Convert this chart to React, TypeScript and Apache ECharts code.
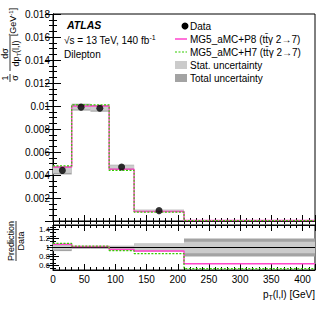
import React, { useEffect, useRef } from "react";
import * as echarts from "echarts";

const binEdges = [0, 30, 60, 90, 130, 210, 420];
const dataValues = [0.0044, 0.0099, 0.0098, 0.0047, 0.0009, 0.00008];
const p8Values = [0.0047, 0.01, 0.01, 0.0045, 0.00083, 0.00005];
const h7Values = [0.0048, 0.0101, 0.0101, 0.0044, 0.00078, 0.00004];
const p8Ratio = [1.07, 1.02, 1.02, 0.955, 0.92, 0.64];
const h7Ratio = [1.09, 1.03, 1.03, 0.93, 0.865, 0.53];
const statUnc = [0.05, 0.02, 0.02, 0.03, 0.08, 0.13];
const totalUnc = [0.08, 0.03, 0.03, 0.04, 0.09, 0.2];
const ratioTickLabels = [0.6, 0.8, 1, 1.2, 1.4];
const shownDataBins = 5;

const FONT = "'Liberation Sans', Arial, Helvetica, sans-serif";
const P8_COLOR = "#ff44cc";
const H7_COLOR = "#33cc00";
const STAT_COLOR = "#cbcbcb";
const TOTAL_COLOR = "#a3a3a3";

function stepPoints(vals: number[]) {
  const pts: number[][] = [];
  vals.forEach((v, i) => {
    pts.push([binEdges[i], v]);
    pts.push([binEdges[i + 1], v]);
  });
  return pts;
}

function bandRects(center: number[], rel: number[], ratio: boolean) {
  return center.map((c, i) => {
    const base = ratio ? 1 : c;
    return [binEdges[i], binEdges[i + 1], base * (1 - rel[i]), base * (1 + rel[i])];
  });
}

const bandRender = (params: any, api: any) => {
  const p1 = api.coord([api.value(0), api.value(3)]);
  const p2 = api.coord([api.value(1), api.value(2)]);
  return {
    type: "rect",
    shape: { x: p1[0], y: p1[1], width: p2[0] - p1[0], height: p2[1] - p1[1] },
    style: { fill: api.visual("color") },
  };
};

export default function App() {
  const ref = useRef<HTMLDivElement>(null);
  useEffect(() => {
    if (!ref.current) return;
    const chart = echarts.init(ref.current, undefined, { renderer: "svg" });
    const axisLine = { show: true, lineStyle: { color: "#000", width: 1 } };
    const xCommon = (grid: number, top: boolean, labels: boolean) => ({
      type: "value",
      gridIndex: grid,
      position: top ? "top" : "bottom",
      min: 0,
      max: 420,
      interval: 50,
      axisLine,
      axisTick: { show: true, inside: true, length: 6, lineStyle: { color: "#000" } },
      minorTick: { show: true, splitNumber: 5, length: 3, lineStyle: { color: "#000" } },
      splitLine: { show: false },
      axisLabel: labels
        ? {
            show: true,
            fontFamily: FONT,
            fontSize: 10,
            color: "#000",
            margin: 4,
            formatter: (v: number) => (v > 410 ? "" : String(v)),
          }
        : { show: false },
    });
    const yMain = (right: boolean) => ({
      type: "value",
      gridIndex: 0,
      position: right ? "right" : "left",
      min: 0,
      max: 0.018,
      interval: 0.002,
      axisLine,
      axisTick: { show: true, inside: true, length: 8, lineStyle: { color: "#000" } },
      minorTick: { show: true, splitNumber: 4, length: 4, lineStyle: { color: "#000" } },
      splitLine: { show: false },
      axisLabel: right
        ? { show: false }
        : {
            show: true,
            fontFamily: FONT,
            fontSize: 10,
            color: "#000",
            margin: 3,
            formatter: (v: number) => (v === 0 ? "" : String(+v.toFixed(3))),
          },
    });
    const yRatio = (right: boolean) => ({
      type: "value",
      gridIndex: 1,
      position: right ? "right" : "left",
      min: 0.5,
      max: 1.5,
      interval: 0.1,
      axisLine,
      axisTick: { show: true, inside: true, length: 6, customValues: ratioTickLabels, lineStyle: { color: "#000" } },
      minorTick: { show: true, splitNumber: 2, length: 3, lineStyle: { color: "#000" } },
      splitLine: { show: false },
      axisLabel: right
        ? { show: false }
        : {
            show: true,
            fontFamily: FONT,
            fontSize: 8,
            color: "#000",
            margin: 3,
            customValues: ratioTickLabels,
            formatter: (v: number) => String(+v.toFixed(1)),
          },
    });

    const dataCenters = dataValues.map((_, i) => (binEdges[i] + binEdges[i + 1]) / 2);

    const option: any = {
      animation: false,
      backgroundColor: "#fff",
      grid: [
        { left: 53, top: 14, width: 262, height: 207, show: true, borderColor: "#000", borderWidth: 1, backgroundColor: "transparent" },
        { left: 53, top: 225, width: 262, height: 45, show: true, borderColor: "#000", borderWidth: 1, backgroundColor: "transparent" },
      ],
      xAxis: [xCommon(0, false, false), xCommon(0, true, false), xCommon(1, false, true), xCommon(1, true, false)],
      yAxis: [yMain(false), yMain(true), yRatio(false), yRatio(true)],
      series: [
        {
          type: "custom",
          xAxisIndex: 0,
          yAxisIndex: 0,
          renderItem: bandRender,
          itemStyle: { color: TOTAL_COLOR },
          encode: { x: [0, 1], y: [2, 3] },
          data: bandRects(dataValues, totalUnc, false),
          z: 1,
        },
        {
          type: "custom",
          xAxisIndex: 0,
          yAxisIndex: 0,
          renderItem: bandRender,
          itemStyle: { color: STAT_COLOR },
          encode: { x: [0, 1], y: [2, 3] },
          data: bandRects(dataValues, statUnc, false),
          z: 2,
        },
        {
          type: "line",
          xAxisIndex: 0,
          yAxisIndex: 0,
          data: stepPoints(p8Values),
          showSymbol: false,
          lineStyle: { color: P8_COLOR, width: 1.5 },
          z: 3,
        },
        {
          type: "line",
          xAxisIndex: 0,
          yAxisIndex: 0,
          data: stepPoints(h7Values),
          showSymbol: false,
          lineStyle: { color: H7_COLOR, width: 1.2, type: [2, 1.5] },
          z: 4,
        },
        {
          type: "scatter",
          xAxisIndex: 0,
          yAxisIndex: 0,
          data: dataValues.slice(0, shownDataBins).map((v, i) => [dataCenters[i], v]),
          symbol: "circle",
          symbolSize: 7,
          itemStyle: { color: "#000" },
          z: 5,
        },
        {
          type: "custom",
          xAxisIndex: 2,
          yAxisIndex: 2,
          renderItem: bandRender,
          itemStyle: { color: TOTAL_COLOR },
          encode: { x: [0, 1], y: [2, 3] },
          data: bandRects(dataValues, totalUnc, true),
          z: 1,
        },
        {
          type: "custom",
          xAxisIndex: 2,
          yAxisIndex: 2,
          renderItem: bandRender,
          itemStyle: { color: STAT_COLOR },
          encode: { x: [0, 1], y: [2, 3] },
          data: bandRects(dataValues, statUnc, true),
          z: 2,
        },
        {
          type: "line",
          xAxisIndex: 2,
          yAxisIndex: 2,
          data: [
            [0, 1],
            [420, 1],
          ],
          showSymbol: false,
          lineStyle: { color: "#000", width: 1.2 },
          z: 3,
        },
        {
          type: "line",
          xAxisIndex: 2,
          yAxisIndex: 2,
          data: stepPoints(p8Ratio),
          showSymbol: false,
          lineStyle: { color: P8_COLOR, width: 1.5 },
          z: 4,
        },
        {
          type: "line",
          xAxisIndex: 2,
          yAxisIndex: 2,
          data: stepPoints(h7Ratio),
          showSymbol: false,
          lineStyle: { color: H7_COLOR, width: 1.2, type: [2, 1.5] },
          z: 5,
        },
      ],
      graphic: [
        { type: "text", x: 67, y: 25, style: { text: "ATLAS", fontFamily: FONT, fontSize: 10.5, fontWeight: "bold", fontStyle: "italic", fill: "#000", verticalAlign: "middle" } },
        {
          type: "text",
          x: 64,
          y: 40,
          style: {
            text: "√s = 13 TeV, 140 fb{sup|-1}",
            fontFamily: FONT,
            fontSize: 10,
            fill: "#000",
            verticalAlign: "middle",
            rich: { sup: { fontFamily: FONT, fontSize: 7, padding: [0, 0, 6, 0], fill: "#000" } },
          },
        },
        { type: "text", x: 64, y: 54, style: { text: "Dilepton", fontFamily: FONT, fontSize: 10, fill: "#000", verticalAlign: "middle" } },
        { type: "circle", shape: { cx: 185, cy: 26, r: 3.5 }, style: { fill: "#000" } },
        { type: "text", x: 190, y: 26, style: { text: "Data", fontFamily: FONT, fontSize: 10, fill: "#000", verticalAlign: "middle" } },
        { type: "line", shape: { x1: 175, y1: 39, x2: 187, y2: 39 }, style: { stroke: P8_COLOR, lineWidth: 1.5 } },
        { type: "text", x: 190, y: 39, style: { text: "MG5_aMC+P8 (tt̄γ 2→7)", fontFamily: FONT, fontSize: 10, fill: "#000", verticalAlign: "middle" } },
        { type: "line", shape: { x1: 175, y1: 52, x2: 187, y2: 52 }, style: { stroke: H7_COLOR, lineWidth: 1.2, lineDash: [2, 1.5] } },
        { type: "text", x: 190, y: 52, style: { text: "MG5_aMC+H7 (tt̄γ 2→7)", fontFamily: FONT, fontSize: 10, fill: "#000", verticalAlign: "middle" } },
        { type: "rect", shape: { x: 175, y: 61, width: 12, height: 8 }, style: { fill: STAT_COLOR } },
        { type: "text", x: 190, y: 65, style: { text: "Stat. uncertainty", fontFamily: FONT, fontSize: 10, fill: "#000", verticalAlign: "middle" } },
        { type: "rect", shape: { x: 175, y: 74, width: 12, height: 8 }, style: { fill: TOTAL_COLOR } },
        { type: "text", x: 190, y: 78, style: { text: "Total uncertainty", fontFamily: FONT, fontSize: 10, fill: "#000", verticalAlign: "middle" } },
        {
          type: "text",
          x: 315,
          y: 294,
          style: {
            text: "p{sub|T}(l,l) [GeV]",
            fontFamily: FONT,
            fontSize: 10,
            fill: "#000",
            align: "right",
            verticalAlign: "middle",
            rich: { sub: { fontFamily: FONT, fontSize: 7, padding: [6, 0, 0, 0], fill: "#000" } },
          },
        },
        {
          type: "group",
          x: 10,
          y: 82,
          rotation: Math.PI / 2,
          children: [
            { type: "text", x: 4, y: -0.5, style: { text: "1", fontFamily: FONT, fontSize: 9, fill: "#000", align: "center", verticalAlign: "bottom" } },
            { type: "line", shape: { x1: 0, y1: 0, x2: 8, y2: 0 }, style: { stroke: "#000", lineWidth: 0.8 } },
            { type: "text", x: 4, y: 0.5, style: { text: "σ", fontFamily: FONT, fontSize: 9, fill: "#000", align: "center", verticalAlign: "top" } },
            { type: "text", x: 28.5, y: -0.5, style: { text: "dσ", fontFamily: FONT, fontSize: 9, fill: "#000", align: "center", verticalAlign: "bottom" } },
            { type: "line", shape: { x1: 11, y1: 0, x2: 46, y2: 0 }, style: { stroke: "#000", lineWidth: 0.8 } },
            {
              type: "text",
              x: 28.5,
              y: 0.5,
              style: {
                text: "dp{sub|T}(l,l)",
                fontFamily: FONT,
                fontSize: 9,
                fill: "#000",
                align: "center",
                verticalAlign: "top",
                rich: { sub: { fontFamily: FONT, fontSize: 6, padding: [5, 0, 0, 0], fill: "#000" } },
              },
            },
            {
              type: "text",
              x: 60,
              y: 3,
              style: {
                text: "[GeV{sup|-1}]",
                fontFamily: FONT,
                fontSize: 9,
                fill: "#000",
                align: "center",
                verticalAlign: "middle",
                rich: { sup: { fontFamily: FONT, fontSize: 6, padding: [0, 0, 5, 0], fill: "#000" } },
              },
            },
          ],
        },
        {
          type: "group",
          x: 16,
          y: 241,
          rotation: Math.PI / 2,
          children: [
            { type: "text", x: 0, y: -0.5, style: { text: "Prediction", fontFamily: FONT, fontSize: 9, fill: "#000", align: "center", verticalAlign: "bottom" } },
            { type: "line", shape: { x1: -20, y1: 0, x2: 20, y2: 0 }, style: { stroke: "#000", lineWidth: 0.8 } },
            { type: "text", x: 0, y: 0.5, style: { text: "Data", fontFamily: FONT, fontSize: 9, fill: "#000", align: "center", verticalAlign: "top" } },
          ],
        },
      ],
    };
    chart.setOption(option);
    return () => chart.dispose();
  }, []);
  return <div ref={ref} style={{ position: "fixed", left: 0, top: 0, width: 332, height: 319, background: "#fff" }} />;
}
